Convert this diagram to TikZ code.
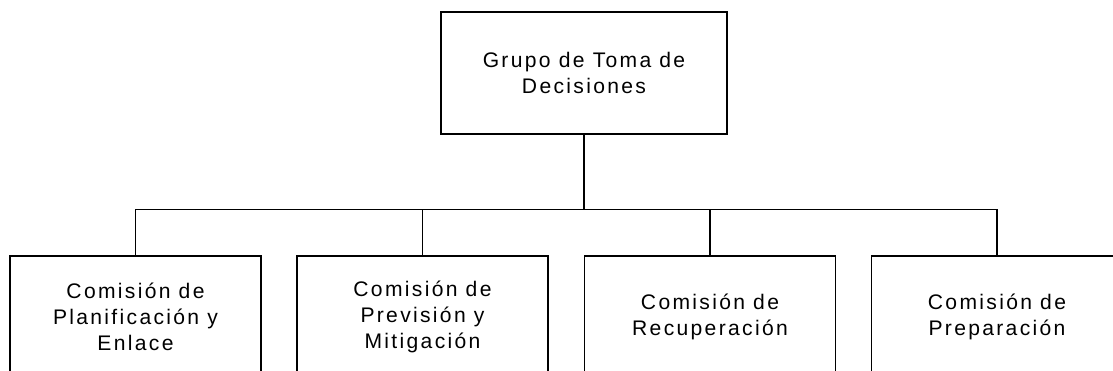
\documentclass[tikz,border=0pt]{standalone}
\usepackage{fontspec}
\setmainfont{Liberation Sans}[LetterSpace=11]
\usetikzlibrary{positioning}

\begin{document}
\begin{tikzpicture}[
    caja/.style={draw,line width=0.7pt,align=center,inner sep=0pt,
      minimum width=5.02cm,minimum height=2.42cm,
      font=\fontsize{12}{14.8}\selectfont}
  ]
  \useasboundingbox (0,0) rectangle (22.26,-7.42);

  % Grupo de decisiones
  \node[caja,minimum width=5.72cm,minimum height=2.44cm] (grupo) at (11.68,-1.46) {Grupo de Toma de\\Decisiones};

  % Comisiones
  \node[caja] (plan) at (2.71,-6.33) {Comisión de\\Planificación y\\Enlace};
  \node[caja] (prev) at (8.45,-6.33) {Comisión de\\Previsión y\\Mitigación};
  \node[caja] (recu) at (14.2,-6.33) {Comisión de\\Recuperación};
  \node[caja] (prep) at (19.94,-6.33) {Comisión de\\Preparación};

  % Conexiones
  \coordinate (bar) at (11.68,-4.19);
  \draw[line width=0.7pt] (grupo.south) -- (bar);
  \draw[line width=0.7pt] (plan.north) |- (bar) -| (prep.north);
  \draw[line width=0.7pt] (prev.north) -- (prev.north |- bar);
  \draw[line width=0.7pt] (recu.north) -- (recu.north |- bar);
\end{tikzpicture}
\end{document}
